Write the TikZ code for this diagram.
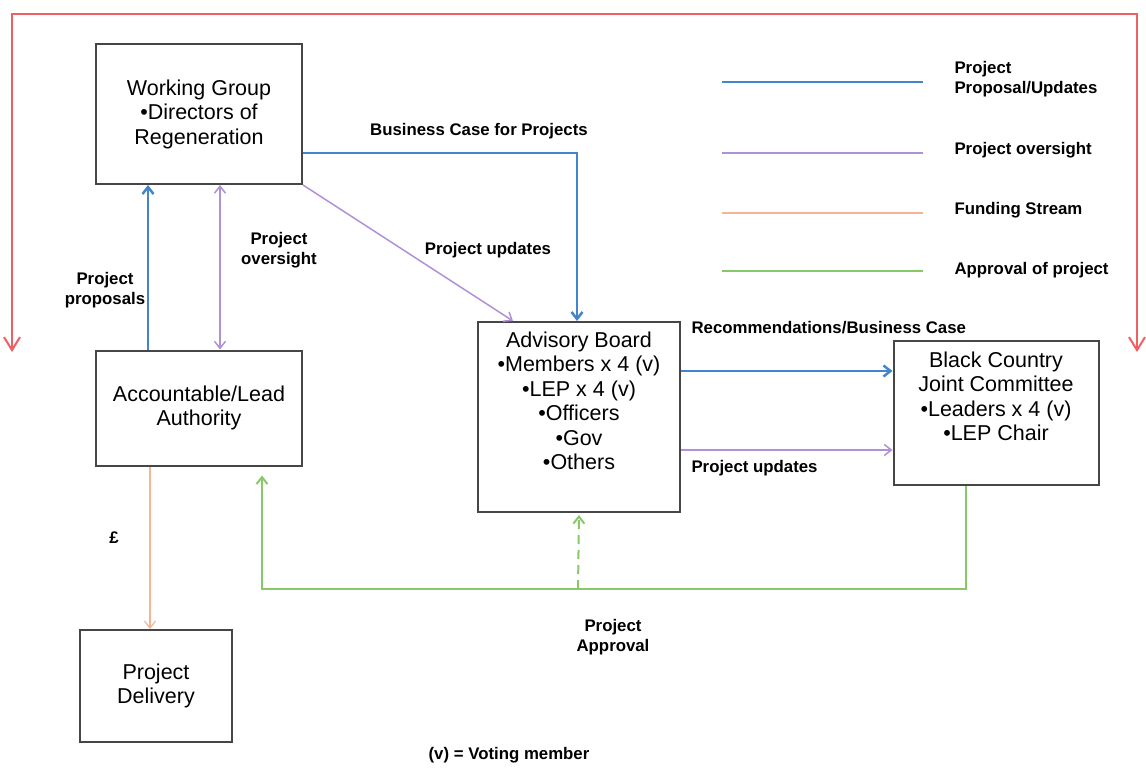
\documentclass[tikz,border=0pt]{standalone}
\usepackage{fontspec}
\setmainfont{Liberation Sans}
\usepackage{tikz}
\usetikzlibrary{arrows.meta,positioning}

\definecolor{boxgray}{RGB}{70,70,70}
\definecolor{flowblue}{RGB}{66,133,205}
\definecolor{flowpurple}{RGB}{175,145,215}
\definecolor{flowfund}{RGB}{245,180,150}
\definecolor{flowgreen}{RGB}{135,200,105}
\definecolor{flowred}{RGB}{240,95,100}

\begin{document}
\begin{tikzpicture}[x=1pt,y=-1pt,
        box/.style = {draw=boxgray,line width=2pt,align=center,
            font=\fontsize{21.5}{24.5}\selectfont},
        lbl/.style = {align=center,font=\fontsize{16.8}{19.5}\selectfont\bfseries},
        oneway/.style = {-{Straight Barb[length=7pt,width=11pt]}},
        twoway/.style = {{Straight Barb[length=7pt,width=11pt]}-{Straight Barb[length=7pt,width=11pt]}}]
            \useasboundingbox (0,0) rectangle (1146,768);

            % boxes
            \node [box,minimum width=206pt,minimum height=140pt] (wg) at (199,114)
                {Working Group\\\textbullet Directors of\\Regeneration};
            \node [box,minimum width=206pt,minimum height=115pt] (acc) at (199,408)
                {Accountable/Lead\\Authority};
            \node [box,minimum width=152pt,minimum height=112pt] (pd) at (156,686)
                {Project\\Delivery};
            \node [box,minimum width=202pt,minimum height=190pt,text depth=33pt] (adv) at (579,417)
                {Advisory Board\\\textbullet Members x 4 (v)\\\textbullet LEP x 4 (v)\\\textbullet Officers\\\textbullet Gov\\\textbullet Others};
            \node [box,minimum width=205pt,minimum height=144pt,text depth=34pt] (bc) at (996,413)
                {Black Country\\Joint Committee\\\textbullet Leaders x 4 (v)\\\textbullet LEP Chair};

            % red loop round the top
            \coordinate (redl) at (12,352);
            \coordinate (redr) at (1137,352);
            \coordinate (redtop) at (575,14);
            \draw [{Straight Barb[length=13pt,width=16pt]}-{Straight Barb[length=13pt,width=16pt]},flowred,line width=2pt]
                (redl) |- (redtop) -| (redr);

            % connectors
            \draw [oneway,flowblue,line width=2.5pt] ([xshift=-51pt]acc.north) -- ([xshift=-51pt]wg.south);
            \draw [twoway,flowpurple,line width=1.5pt] ([xshift=21pt]wg.south) -- ([xshift=21pt]acc.north);
            \draw [oneway,flowblue,line width=2.5pt] ([yshift=-39pt]wg.east) -| ([xshift=-2pt]adv.north);
            \draw [oneway,flowpurple,line width=1.5pt] (wg.south east) -- ([xshift=-66pt]adv.north);
            \draw [oneway,flowblue,line width=2.5pt] ([yshift=46pt]adv.east) -- ([yshift=46pt]adv.east -| bc.west);
            \draw [oneway,flowpurple,line width=1.5pt] ([yshift=-33pt]adv.east) -- ([yshift=-33pt]adv.east -| bc.west);
            \draw [oneway,flowfund,line width=1.2pt] ([xshift=-49pt]acc.south) -- ([xshift=-49pt]acc.south |- pd.north);
            \coordinate (apprv) at (578,589);
            \draw [oneway,flowgreen,line width=2pt] ([xshift=-30pt]bc.south) |- (apprv) -| ([xshift=63pt,yshift=-9pt]acc.south);
            \draw [oneway,flowgreen,line width=2pt,dash pattern=on 9pt off 6pt] (apprv) -- ([yshift=-2pt]adv.south);

            % connector labels
            \node [lbl] (lblcase) at (479,131) {Business Case for Projects};
            \node [lbl] (lblupd) at (488,250) {Project updates};
            \node [lbl] (lblover) at (279,250) {Project\\oversight};
            \node [lbl] (lblprop) at (105,290) {Project\\proposals};
            \node [lbl,anchor=west] (lblrec) at (688,328) {Recommendations/Business Case};
            \node [lbl,anchor=west] (lblupd2) at (688,468) {Project updates};
            \node [lbl] (lblfund) at (114,538) {£};
            \node [lbl] (lblappr) at (613,637) {Project\\Approval};
            \node [lbl] (lblvote) at (509,755) {(v) = Voting member};

            % key
            \node [lbl,align=left,anchor=west] (keyblue) at (951,79) {Project\\Proposal/Updates};
            \node [lbl,anchor=west] (keypurple) at (951,150) {Project oversight};
            \node [lbl,anchor=west] (keyfund) at (951,210) {Funding Stream};
            \node [lbl,anchor=west] (keygreen) at (951,270) {Approval of project};
            \draw [flowblue,line width=2.5pt] (722,82) -- (923,82);
            \draw [flowpurple,line width=2pt] (722,153) -- (923,153);
            \draw [flowfund,line width=1.5pt] (722,213) -- (923,213);
            \draw [flowgreen,line width=2pt] (722,271) -- (923,271);
        \end{tikzpicture}
\end{document}
